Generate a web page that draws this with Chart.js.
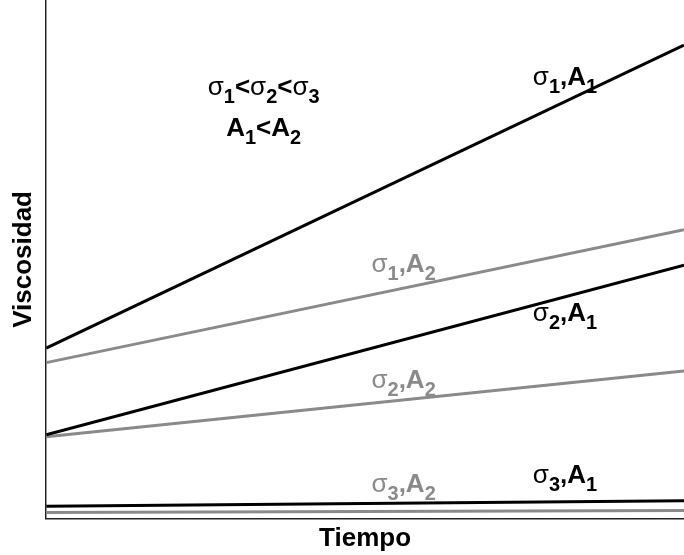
<!DOCTYPE html>
<html>
<head>
<meta charset="utf-8">
<script src="https://cdn.jsdelivr.net/npm/chart.js@4"></script>
<style>
  body { margin: 0; background: #fff; }
  canvas { display: block; }
</style>
</head>
<body>
<canvas id="chart-1" width="684" height="555"></canvas>
<script>
// time runs 0..100 from the axis to the right edge
const tiempo = [0, 100];

// viscosity at the start and end of the time span
const s1a1 = [32.9, 91.3];
const s1a2 = [30.1, 55.7];
const s2a1 = [16.2, 48.9];
const s2a2 = [15.8, 28.5];
const s3a1 = [2.4, 3.5];
const s3a2 = [1.2, 1.6];

const black = '#000000';
const grey = '#8a8a8a';

// line labels: sigma / A subscripts, position in data units, colour
const lineLabels = [
  { s: '1', a: '1', x: 76.3, y: 83.6, color: black },
  { s: '1', a: '2', x: 51.0, y: 47.6, color: grey },
  { s: '2', a: '1', x: 76.3, y: 38.2, color: black },
  { s: '2', a: '2', x: 51.0, y: 25.2, color: grey },
  { s: '3', a: '1', x: 76.3, y: 6.9, color: black },
  { s: '3', a: '2', x: 51.0, y: 5.2, color: grey },
];

const toPoints = (vals) => tiempo.map((t, i) => ({ x: t, y: vals[i] }));

const mkSet = (label, vals, color) => ({
  label: label,
  data: toPoints(vals),
  borderColor: color,
  borderWidth: 3,
  pointRadius: 0,
  showLine: true,
  fill: false,
});

const FONT = '"Liberation Sans", Arial, sans-serif';
const SIZE = 26;
const SUB = 20;

// draw a run of pieces; each piece is [text, isSub, weight]
function drawRich(ctx, pieces, x, y, color, align) {
  const fontOf = (p) => `${p[2] || 'bold'} ${p[1] ? SUB : SIZE}px ${FONT}`;
  let total = 0;
  pieces.forEach(p => { ctx.font = fontOf(p); total += ctx.measureText(p[0]).width; });
  let cx = align === 'center' ? x - total / 2 : x;
  ctx.fillStyle = color;
  ctx.textBaseline = 'alphabetic';
  ctx.textAlign = 'left';
  pieces.forEach(p => {
    ctx.font = fontOf(p);
    ctx.fillText(p[0], cx, p[1] ? y + 8 : y);
    cx += ctx.measureText(p[0]).width;
  });
}

const labelPlugin = {
  id: 'lineLabels',
  afterDatasetsDraw(chart) {
    const { ctx, scales: { x, y } } = chart;
    ctx.save();
    lineLabels.forEach(l => {
      drawRich(ctx, [
        ['σ', false, 'normal'], [l.s, true], [',', false], ['A', false], [l.a, true]
      ], x.getPixelForValue(l.x), y.getPixelForValue(l.y), l.color, 'left');
    });
    // ordering note in the upper left
    const cx = x.getPixelForValue(34.1);
    drawRich(ctx, [
      ['σ', false, 'normal'], ['1', true], ['<', false],
      ['σ', false, 'normal'], ['2', true], ['<', false],
      ['σ', false, 'normal'], ['3', true]
    ], cx, y.getPixelForValue(81.7), black, 'center');
    drawRich(ctx, [
      ['A', false], ['1', true], ['<', false], ['A', false], ['2', true]
    ], cx, y.getPixelForValue(73.8), black, 'center');
    ctx.restore();
  }
};

const axisTitle = (text, pad) => ({
  display: true,
  text: text,
  color: '#000',
  font: { family: FONT, size: SIZE, weight: 'bold' },
  padding: pad,
});

const hiddenGrid = { display: false, drawTicks: false, tickLength: 0 };

const fConfig = {
  type: 'scatter',
  data: {
    datasets: [
      mkSet('s1a1', s1a1, black),
      mkSet('s1a2', s1a2, grey),
      mkSet('s2a1', s2a1, black),
      mkSet('s2a2', s2a2, grey),
      mkSet('s3a1', s3a1, black),
      mkSet('s3a2', s3a2, grey),
    ]
  },
  options: {
    responsive: false,
    animation: false,
    layout: { padding: 0 },
    plugins: {
      legend: { display: false },
      tooltip: { enabled: false },
    },
    scales: {
      x: {
        type: 'linear',
        min: 0,
        max: 100,
        grid: hiddenGrid,
        ticks: { display: false },
        border: { display: true, color: '#222', width: 1.5 },
        title: axisTitle('Tiempo', { top: 4, bottom: 1 }),
      },
      y: {
        type: 'linear',
        min: 0,
        max: 100,
        grid: hiddenGrid,
        ticks: { display: false },
        border: { display: true, color: '#222', width: 1.5 },
        title: axisTitle('Viscosidad', { top: 8, bottom: 7 }),
      }
    }
  },
  plugins: [labelPlugin]
};

const chart1 = new Chart(document.getElementById('chart-1'), fConfig);
</script>
</body>
</html>
